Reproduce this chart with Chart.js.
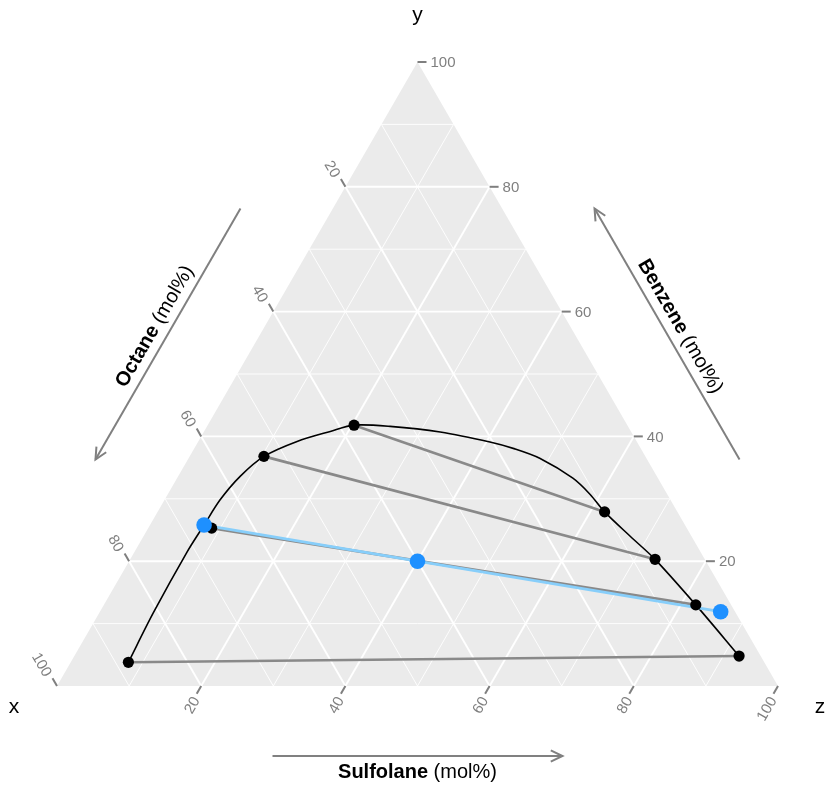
<!DOCTYPE html>
<html>
<head>
<meta charset="utf-8">
<script src="https://cdn.jsdelivr.net/npm/chart.js@4/dist/chart.umd.min.js"></script>
<style>
  html, body { margin: 0; padding: 0; background: #ffffff; }
  #wrap { width: 828px; height: 787px; }
</style>
</head>
<body>
<div id="wrap"><canvas id="tern" width="828" height="787"></canvas></div>
<script>
// Octane / Benzene / Sulfolane liquid-liquid equilibrium, compositions in mol%
const tickValues = [20, 40, 60, 80, 100];

// octane-rich phase (raffinate) end of each tie line
const raffOctane    = [88.2, 65.9, 52.9, 37.9];
const raffBenzene   = [3.8, 25.3, 36.8, 41.8];
const raffSulfolane = [8.0, 8.8, 10.3, 20.3];

// sulfolane-rich phase (extract) end of each tie line
const extOctane    = [3.0, 4.9, 6.9, 10.1];
const extBenzene   = [4.8, 13.0, 20.3, 27.9];
const extSulfolane = [92.2, 82.1, 72.8, 62.0];

// binodal curve
const curveOctane    = [88.2, 80.8, 71.2, 66.7, 62.5, 57.8, 52.9, 47.1, 41.7, 37.9, 33.0, 26.5, 20.4, 17.5, 14.8, 11.8, 10.7, 10.1, 8.5, 6.9, 4.9, 3.0];
const curveBenzene   = [3.8, 11.7, 21.5, 25.8, 29.8, 33.6, 36.8, 39.2, 40.8, 41.8, 41.6, 40.7, 39.1, 38.0, 36.5, 33.3, 30.7, 27.9, 24.0, 20.3, 13.0, 4.8];
const curveSulfolane = [8.0, 7.5, 7.3, 7.5, 7.7, 8.6, 10.3, 13.7, 17.5, 20.3, 25.4, 32.8, 40.5, 44.5, 48.7, 54.9, 58.6, 62.0, 67.5, 72.8, 82.1, 92.2];

// overall mixture and the two phases it splits into
const mixOctane    = [66.7, 40.0, 2.0];
const mixBenzene   = [25.8, 20.0, 11.9];
const mixSulfolane = [7.5, 40.0, 86.1];

const S3 = Math.sqrt(3) / 2;
// ternary composition -> cartesian data coordinates (x vertex left, z vertex right, y vertex top)
function toXY(o, b, s) {
  const t = o + b + s;
  return { x: (s + b / 2) / t, y: (b / t) * S3 };
}
function series(o, b, s) { return o.map((v, i) => toXY(v, b[i], s[i])); }

const FONT = '"Liberation Sans", Arial, Helvetica, sans-serif';
const TICK_COLOR = '#7f7f7f';

const datasets = [];
raffOctane.forEach((_, i) => {
  datasets.push({
    label: 'tie ' + (i + 1),
    data: [toXY(raffOctane[i], raffBenzene[i], raffSulfolane[i]),
           toXY(extOctane[i], extBenzene[i], extSulfolane[i])],
    showLine: true, borderColor: '#898989', borderWidth: 2.6,
    pointRadius: 0, order: 5, clip: false
  });
});
datasets.push({
  label: 'binodal',
  data: series(curveOctane, curveBenzene, curveSulfolane),
  showLine: true, borderColor: '#000000', borderWidth: 1.6, tension: 0.3,
  pointRadius: 0, order: 4, clip: false
});
datasets.push({
  label: 'mixing line',
  data: series(mixOctane, mixBenzene, mixSulfolane),
  showLine: true, borderColor: '#87cefa', borderWidth: 2.8,
  pointRadius: 0, order: 3, clip: false
});
datasets.push({
  label: 'phases',
  data: series(raffOctane, raffBenzene, raffSulfolane).concat(series(extOctane, extBenzene, extSulfolane)),
  showLine: false, pointRadius: 5.6, pointBackgroundColor: '#000000', pointBorderWidth: 0,
  order: 2, clip: false
});
datasets.push({
  label: 'mixture',
  data: series(mixOctane, mixBenzene, mixSulfolane),
  showLine: false, pointRadius: 7.8, pointBackgroundColor: '#1e90ff', pointBorderWidth: 0,
  order: 1, clip: false
});

function px(chart, o, b, s) {
  const p = toXY(o, b, s);
  return [chart.scales.x.getPixelForValue(p.x), chart.scales.y.getPixelForValue(p.y)];
}

function line(ctx, a, b) {
  ctx.beginPath(); ctx.moveTo(a[0], a[1]); ctx.lineTo(b[0], b[1]); ctx.stroke();
}

function arrow(ctx, a, b) {
  ctx.save();
  ctx.strokeStyle = '#808080'; ctx.lineWidth = 2; ctx.lineCap = 'butt';
  line(ctx, a, b);
  const ang = Math.atan2(b[1] - a[1], b[0] - a[0]);
  const L = 13, spread = Math.PI / 7;
  ctx.beginPath();
  ctx.moveTo(b[0] - L * Math.cos(ang - spread), b[1] - L * Math.sin(ang - spread));
  ctx.lineTo(b[0], b[1]);
  ctx.lineTo(b[0] - L * Math.cos(ang + spread), b[1] - L * Math.sin(ang + spread));
  ctx.stroke();
  ctx.restore();
}

// bold name followed by regular unit, centred at (cx, cy), rotated by rot
function title(ctx, cx, cy, rot, bold, rest) {
  ctx.save();
  ctx.translate(cx, cy); ctx.rotate(rot);
  ctx.fillStyle = '#000000'; ctx.textBaseline = 'middle'; ctx.textAlign = 'left';
  ctx.font = 'bold 20px ' + FONT;
  const w1 = ctx.measureText(bold).width;
  ctx.font = '20px ' + FONT;
  const w2 = ctx.measureText(rest).width;
  const x0 = -(w1 + w2) / 2;
  ctx.font = 'bold 20px ' + FONT;
  ctx.fillText(bold, x0, 0);
  ctx.font = '20px ' + FONT;
  ctx.fillText(rest, x0 + w1, 0);
  ctx.restore();
}

const ternaryFrame = {
  id: 'ternaryFrame',
  beforeDatasetsDraw(chart) {
    const ctx = chart.ctx;
    const X = px(chart, 100, 0, 0), Y = px(chart, 0, 100, 0), Z = px(chart, 0, 0, 100);
    ctx.save();
    ctx.fillStyle = '#ebebeb';
    ctx.beginPath(); ctx.moveTo(X[0], X[1]); ctx.lineTo(Y[0], Y[1]); ctx.lineTo(Z[0], Z[1]); ctx.closePath(); ctx.fill();
    ctx.strokeStyle = '#ffffff';
    for (let v = 10; v < 100; v += 10) {
      ctx.lineWidth = v % 20 === 0 ? 1.9 : 0.9;
      // constant benzene
      line(ctx, px(chart, 100 - v, v, 0), px(chart, 0, v, 100 - v));
      // constant octane
      line(ctx, px(chart, v, 100 - v, 0), px(chart, v, 0, 100 - v));
      // constant sulfolane
      line(ctx, px(chart, 100 - v, 0, v), px(chart, 0, 100 - v, v));
    }
    ctx.restore();
  },
  afterDraw(chart) {
    const ctx = chart.ctx;
    ctx.save();
    ctx.strokeStyle = TICK_COLOR; ctx.fillStyle = TICK_COLOR; ctx.lineWidth = 2;
    ctx.font = '15px ' + FONT;
    const TL = 9, GAP = 13;
    tickValues.forEach(v => {
      // Benzene ticks on the right edge
      let p = px(chart, 0, v, 100 - v);
      line(ctx, p, [p[0] + TL, p[1]]);
      ctx.textAlign = 'left'; ctx.textBaseline = 'middle';
      ctx.fillText(String(v), p[0] + GAP, p[1] + 1);

      // Octane ticks on the left edge
      p = px(chart, v, 100 - v, 0);
      let u = [-0.5, -S3];
      line(ctx, p, [p[0] + TL * u[0], p[1] + TL * u[1]]);
      ctx.save();
      ctx.translate(p[0] + GAP * u[0] - 3, p[1] + GAP * u[1] + 1);
      ctx.rotate(Math.PI / 3);
      ctx.textAlign = 'right'; ctx.textBaseline = 'middle';
      ctx.fillText(String(v), 0, 0);
      ctx.restore();

      // Sulfolane ticks on the bottom edge
      p = px(chart, 100 - v, 0, v);
      u = [-0.5, S3];
      line(ctx, p, [p[0] + TL * u[0], p[1] + TL * u[1]]);
      ctx.save();
      ctx.translate(p[0] + GAP * u[0] + 2, p[1] + GAP * u[1] + 1);
      ctx.rotate(-Math.PI / 3);
      ctx.textAlign = 'right'; ctx.textBaseline = 'middle';
      ctx.fillText(String(v), 0, 0);
      ctx.restore();
    });
    ctx.restore();

    const X = px(chart, 100, 0, 0), Y = px(chart, 0, 100, 0), Z = px(chart, 0, 0, 100);
    // vertex letters
    ctx.save();
    ctx.fillStyle = '#000000'; ctx.font = '21px ' + FONT;
    ctx.textAlign = 'center'; ctx.textBaseline = 'middle';
    ctx.fillText('x', X[0] - 43, X[1] + 21);
    ctx.fillText('y', Y[0], Y[1] - 47);
    ctx.fillText('z', Z[0] + 42, Z[1] + 21);
    ctx.restore();

    // axis titles with direction arrows
    const half = 145;
    // bottom: Sulfolane, increasing to the right
    const mb = [(X[0] + Z[0]) / 2, X[1]];
    arrow(ctx, [mb[0] - half, mb[1] + 70], [mb[0] + half, mb[1] + 70]);
    title(ctx, mb[0], mb[1] + 86, 0, 'Sulfolane', ' (mol%)');

    // left: Octane, increasing downward along the edge
    const ml = [(X[0] + Y[0]) / 2, (X[1] + Y[1]) / 2];
    const nl = [-S3, -0.5], dl = [0.5, -S3];
    const cl = [ml[0] + nl[0] * 80, ml[1] + nl[1] * 80];
    arrow(ctx, [cl[0] + dl[0] * half, cl[1] + dl[1] * half], [cl[0] - dl[0] * half, cl[1] - dl[1] * half]);
    title(ctx, ml[0] + nl[0] * 95, ml[1] + nl[1] * 95, -Math.PI / 3, 'Octane', ' (mol%)');

    // right: Benzene, increasing upward along the edge
    const mr = [(Z[0] + Y[0]) / 2, (Z[1] + Y[1]) / 2];
    const nr = [S3, -0.5], dr = [-0.5, -S3];
    const cr = [mr[0] + nr[0] * 80, mr[1] + nr[1] * 80];
    arrow(ctx, [cr[0] - dr[0] * half, cr[1] - dr[1] * half], [cr[0] + dr[0] * half, cr[1] + dr[1] * half]);
    title(ctx, mr[0] + nr[0] * 95, mr[1] + nr[1] * 95, Math.PI / 3, 'Benzene', ' (mol%)');
  }
};

new Chart(document.getElementById('tern'), {
  type: 'scatter',
  data: { datasets },
  options: {
    responsive: false,
    animation: false,
    layout: { padding: { left: 57, right: 50, top: 62, bottom: 101 } },
    scales: {
      x: { type: 'linear', min: 0, max: 1, display: false },
      y: { type: 'linear', min: 0, max: S3, display: false }
    },
    plugins: { legend: { display: false }, tooltip: { enabled: false } }
  },
  plugins: [ternaryFrame]
});
</script>
</body>
</html>
